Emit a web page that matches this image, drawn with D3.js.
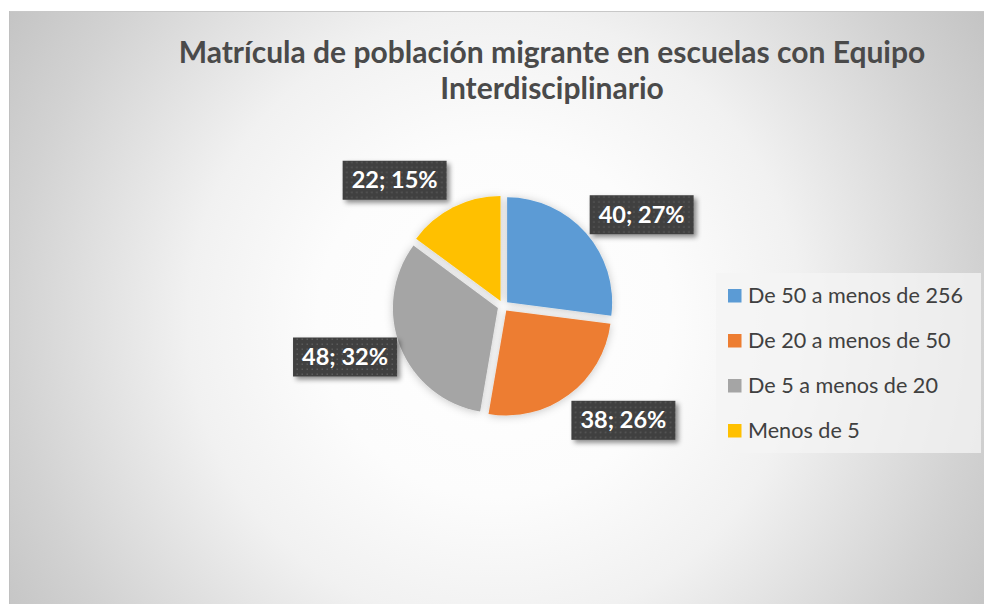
<!DOCTYPE html>
<html>
<head>
<meta charset="utf-8">
<script src="https://cdn.jsdelivr.net/npm/d3@7"></script>
<style>
  html, body { margin: 0; padding: 0; background: #ffffff; }
  svg { display: block; }
</style>
</head>
<body>
<svg id="chart" width="984" height="604"></svg>
<script>
// Matrícula de población migrante — pie by enrolment range
const categories = ["De 50 a menos de 256", "De 20 a menos de 50", "De 5 a menos de 20", "Menos de 5"];
const values = [40, 38, 48, 22];
const percentLabels = ["27%", "26%", "32%", "15%"];
const colors = ["#5b9bd5", "#ed7d31", "#a5a5a5", "#ffc000"];
const titleLines = ["Matrícula de población migrante en escuelas con Equipo", "Interdisciplinario"];

// layout
const W = 984, H = 604;
const frame = { x: 9, y: 11, w: W - 9, h: H - 11 };
const cx = 503, cy = 306, radius = 105, explode = 5.5;
const labelDist = 166;
const labelNudgeDeg = [8, -10, 4, -14];

const svg = d3.select("#chart");
const defs = svg.append("defs");

// chart area background: soft radial fade to grey at the corners
const bg = defs.append("radialGradient")
  .attr("id", "bgGrad")
  .attr("gradientUnits", "userSpaceOnUse")
  .attr("cx", 495).attr("cy", 320).attr("r", 590);
[[0, "#ffffff"], [0.3, "#fcfcfc"], [0.52, "#f1f1f1"], [0.82, "#d2d2d2"], [1, "#c2c2c2"]]
  .forEach(([o, c]) => bg.append("stop").attr("offset", o).attr("stop-color", c));

// dotted texture used by the value callouts
const pat = defs.append("pattern")
  .attr("id", "dots").attr("patternUnits", "userSpaceOnUse")
  .attr("width", 5).attr("height", 5);
pat.append("rect").attr("width", 5).attr("height", 5).attr("fill", "#404040");
pat.append("rect").attr("x", 1.5).attr("y", 1.5).attr("width", 1.5).attr("height", 1.5).attr("fill", "#5a5a5a");

const pieShadow = defs.append("filter").attr("id", "pieShadow")
  .attr("x", "-30%").attr("y", "-30%").attr("width", "160%").attr("height", "160%");
pieShadow.append("feDropShadow").attr("dx", 0).attr("dy", 1).attr("stdDeviation", 4)
  .attr("flood-color", "#000").attr("flood-opacity", 0.22);

const boxShadow = defs.append("filter").attr("id", "boxShadow")
  .attr("x", "-20%").attr("y", "-30%").attr("width", "150%").attr("height", "170%");
boxShadow.append("feDropShadow").attr("dx", 3).attr("dy", 3).attr("stdDeviation", 2.5)
  .attr("flood-color", "#000").attr("flood-opacity", 0.45);

svg.append("rect")
  .attr("x", frame.x).attr("y", frame.y).attr("width", frame.w).attr("height", frame.h)
  .attr("fill", "url(#bgGrad)");
svg.append("line")
  .attr("x1", frame.x).attr("x2", W).attr("y1", frame.y + 0.5).attr("y2", frame.y + 0.5)
  .attr("stroke", "#c8c8c8").attr("stroke-width", 1);
svg.append("line")
  .attr("x1", frame.x + 0.5).attr("x2", frame.x + 0.5).attr("y1", frame.y).attr("y2", H)
  .attr("stroke", "#c0c0c0").attr("stroke-width", 1);

// helper: shrink/grow font so a text spans a given width
function fitText(sel, targetWidth, startSize) {
  sel.style("font-size", startSize + "px");
  const w = sel.node().getComputedTextLength();
  sel.style("font-size", (startSize * targetWidth / w).toFixed(2) + "px");
}

// title
const titleFont = "Lato, 'Open Sans', sans-serif";
const t1 = svg.append("text")
  .attr("x", 552).attr("y", 63).attr("text-anchor", "middle")
  .attr("font-family", titleFont).attr("font-weight", 700).attr("fill", "#4a4a4a")
  .text(titleLines[0]);
fitText(t1, 747, 25);
const titleSize = t1.style("font-size");
svg.append("text")
  .attr("x", 552).attr("y", 99).attr("text-anchor", "middle")
  .attr("font-family", titleFont).attr("font-weight", 700).attr("fill", "#4a4a4a")
  .style("font-size", titleSize)
  .text(titleLines[1]);

// pie
const pie = d3.pie().sort(null).value(d => d)(values);
const arc = d3.arc().innerRadius(0).outerRadius(radius);

const slices = svg.append("g")
  .attr("transform", `translate(${cx},${cy})`)
  .attr("filter", "url(#pieShadow)");

slices.selectAll("path")
  .data(pie)
  .join("path")
  .attr("d", arc)
  .attr("fill", (d, i) => colors[i])
  .attr("transform", d => {
    const a = (d.startAngle + d.endAngle) / 2;
    return `translate(${Math.sin(a) * explode},${-Math.cos(a) * explode})`;
  });

// value callouts
const labels = svg.append("g").attr("transform", `translate(${cx},${cy})`);
pie.forEach((d, i) => {
  const a = (d.startAngle + d.endAngle) / 2 + labelNudgeDeg[i] * Math.PI / 180;
  const lx = Math.sin(a) * labelDist;
  const ly = -Math.cos(a) * labelDist;
  const g = labels.append("g").attr("transform", `translate(${lx},${ly})`);
  const bw = 104, bh = 39;
  g.append("rect")
    .attr("x", -bw / 2).attr("y", -bh / 2).attr("width", bw).attr("height", bh)
    .attr("fill", "url(#dots)").attr("filter", "url(#boxShadow)");
  const txt = g.append("text")
    .attr("x", 0).attr("y", 8).attr("text-anchor", "middle")
    .attr("font-family", titleFont).attr("font-weight", 700).attr("fill", "#ffffff")
    .text(`${values[i]}; ${percentLabels[i]}`);
  fitText(txt, 86, 22);
});

// legend
const legend = svg.append("g").attr("transform", "translate(716,273)");
legend.append("rect")
  .attr("width", 265).attr("height", 180)
  .attr("fill", "#f4f4f4").attr("opacity", 0.75);

const rowY = d3.scalePoint().domain(categories).range([23, 158]);
const rows = legend.selectAll("g.row")
  .data(categories)
  .join("g")
  .attr("class", "row")
  .attr("transform", d => `translate(0,${rowY(d)})`);
rows.append("rect")
  .attr("x", 12).attr("y", -7).attr("width", 13.5).attr("height", 13.5)
  .attr("fill", (d, i) => colors[i]);
const legendTexts = rows.append("text")
  .attr("x", 32).attr("y", 7)
  .attr("font-family", titleFont).attr("fill", "#404040")
  .text(d => d);
// common size so the longest entry spans its width
const first = legendTexts.filter((d, i) => i === 0);
fitText(first, 215, 19);
legendTexts.style("font-size", first.style("font-size"));
</script>
</body>
</html>
